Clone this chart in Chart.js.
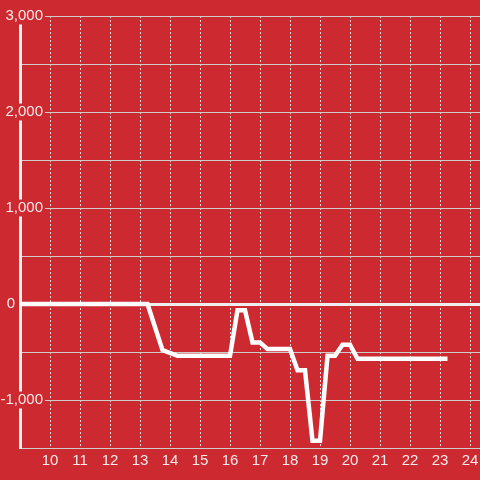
<!DOCTYPE html>
<html>
<head>
<meta charset="utf-8">
<script src="https://cdn.jsdelivr.net/npm/chart.js@4"></script>
<style>
  html, body { margin: 0; padding: 0; background: #cc2a30; }
  #wrap { width: 480px; height: 480px; position: relative; }
</style>
</head>
<body>
<div id="wrap"><canvas id="c"></canvas></div>
<script>
// ---- data ----
const hours  = [9, 13.25, 13.75, 14.25, 16, 16.25, 16.5, 16.75, 17, 17.25, 18, 18.25, 18.5, 18.75, 19, 19.25, 19.5, 19.75, 20, 20.25, 23.25];
const values = [0, 0, -480, -540, -540, -65, -65, -400, -400, -470, -470, -690, -690, -1425, -1425, -540, -540, -425, -425, -570, -570];
const xTickLabels = ['10','11','12','13','14','15','16','17','18','19','20','21','22','23','24'];
const yTickLabels = { '3000': '3,000', '2000': '2,000', '1000': '1,000', '0': '0', '-1000': '-1,000' };

const BG = '#cc2a30';
const TEXT = 'rgba(255,255,255,0.9)';
const FONT = { family: "'Liberation Sans', Arial, sans-serif", size: 15 };
const ZERO_PAD = '      \u2009';

const points = hours.map((h, i) => ({ x: h, y: values[i] }));

new Chart(document.getElementById('c'), {
  type: 'line',
  data: {
    datasets: [{
      data: points,
      borderColor: '#ffffff',
      borderWidth: 4.5,
      pointRadius: 0,
      tension: 0,
      fill: false
    }]
  },
  options: {
    responsive: true,
    maintainAspectRatio: false,
    animation: false,
    devicePixelRatio: 1,
    layout: { padding: { top: 16, left: 0, right: 0, bottom: 6 } },
    plugins: { legend: { display: false }, tooltip: { enabled: false } },
    scales: {
      x: {
        type: 'linear',
        min: 9,
        max: 24.333,
        afterFit: (scale) => { scale.paddingLeft = 0; scale.paddingRight = 0; },
        grid: {
          color: '#dddddd',
          lineWidth: 1,
          drawTicks: false
        },
        border: { display: true, color: '#cccccc', width: 1, dash: [2, 2] },
        ticks: {
          stepSize: 1,
          includeBounds: false,
          autoSkip: false,
          maxRotation: 0,
          padding: 4,
          color: TEXT,
          font: FONT,
          callback: (v) => xTickLabels.includes(String(v)) ? String(v) : ''
        }
      },
      y: {
        min: -1500,
        max: 3000,
        afterFit: (scale) => { scale.width = 20; },
        grid: {
          drawTicks: false,
          color: (c) => (c.tick && c.tick.value === 0) ? '#eeeeee' : '#cccccc',
          lineWidth: (c) => (c.tick && c.tick.value === 0) ? 3 : 1
        },
        border: { display: true, color: '#f4f4f4', width: 3 },
        ticks: {
          stepSize: 500,
          mirror: true,
          padding: -19.5,
          crossAlign: 'far',
          color: TEXT,
          font: { family: FONT.family, size: 15, lineHeight: 1.0 },
          showLabelBackdrop: (c) => !!(c.tick && c.tick.value !== 0 && yTickLabels[String(c.tick.value)]),
          backdropColor: BG,
          backdropPadding: { top: 1, bottom: 1, left: 2, right: 2 },
          callback: (v) => {
            const l = yTickLabels[String(v)];
            if (!l) return '';
            return v === 0 ? l + ZERO_PAD : l;
          }
        }
      }
    }
  }
});
</script>
</body>
</html>
